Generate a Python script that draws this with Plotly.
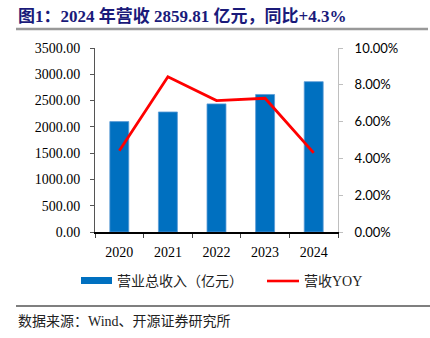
import plotly.graph_objects as go

# ---- data ----
years = ["2020", "2021", "2022", "2023", "2024"]
revenue = [2100, 2283, 2437, 2616, 2859.81]      # 营业总收入（亿元）
yoy = [4.42, 8.44, 7.14, 7.27, 4.30]             # 营收YOY (%)
left_ticks = [0, 500, 1000, 1500, 2000, 2500, 3000, 3500]
right_ticks = [0, 2, 4, 6, 8, 10]
bar_name = "营业总收入（亿元）"
line_name = "营收YOY"
title_text = "图1：2024 年营收 2859.81 亿元，同比+4.3%"
source_text = "数据来源：Wind、开源证券研究所"

W, H = 430, 338
L, R, T, B = 95, 338, 48, 232  # plot area pixels


def px(x):
    return (x - L) / (R - L)


def py(y):
    return (B - y) / (B - T)


SERIF = "Times New Roman, Liberation Serif, Noto Sans CJK SC"
BLUE = "#0070C0"
RED = "#FF0000"

fig = go.Figure()
fig.add_trace(go.Bar(
    x=years, y=revenue, name=bar_name, marker=dict(color=BLUE, line=dict(color="#5b9bd5", width=0.8)),
    showlegend=False, yaxis="y"))
fig.add_trace(go.Scatter(
    x=years, y=yoy, name=line_name, mode="lines", line=dict(color=RED, width=2.8),
    showlegend=False, yaxis="y2"))

fig.update_layout(
    width=W, height=H,
    margin=dict(l=L, r=W - R, t=T, b=H - B),
    paper_bgcolor="white", plot_bgcolor="white",
    bargap=0.61,
    xaxis=dict(showline=True, linecolor="black", linewidth=1.5, ticks="outside",
               tickson="boundaries", ticklen=4, tickcolor="#444", ticklabelstandoff=6,
               tickfont=dict(family=SERIF, size=14, color="black"), showgrid=False),
    yaxis=dict(range=[0, 3500], tickvals=left_ticks,
               ticktext=[f"{v:.2f}" for v in left_ticks],
               showline=True, linecolor="#555", linewidth=1, ticks="outside", ticklen=4,
               tickcolor="#555", showgrid=False, zeroline=False, ticklabelstandoff=7,
               tickfont=dict(family=SERIF, size=14, color="black")),
    yaxis2=dict(range=[0, 10], tickvals=right_ticks,
                ticktext=[f"{v:.2f}%" for v in right_ticks],
                overlaying="y", side="right", showline=True, linecolor="#bfbfbf",
                linewidth=1, ticks="outside", ticklen=4, tickcolor="#bfbfbf",
                showgrid=False, zeroline=False, ticklabelstandoff=9,
                tickfont=dict(family="Lato, Open Sans, sans-serif", size=13, color="black")),
)

shapes = [
    # title underline
    dict(type="line", xref="paper", yref="paper", x0=px(16), x1=px(428), y0=py(29), y1=py(29),
         line=dict(color="#999999", width=2.5)),
    # bottom separator
    dict(type="line", xref="paper", yref="paper", x0=px(16), x1=px(430), y0=py(306), y1=py(306),
         line=dict(color="black", width=1.2)),
    # legend: bar swatch
    dict(type="rect", xref="paper", yref="paper", x0=px(81), x1=px(112), y0=py(284), y1=py(277),
         fillcolor=BLUE, line=dict(width=0)),
    # legend: line swatch
    dict(type="line", xref="paper", yref="paper", x0=px(267), x1=px(299), y0=py(281), y1=py(281),
         line=dict(color=RED, width=2.6)),
]
fig.update_layout(shapes=shapes)

ann = [
    dict(text="<b>" + title_text + "</b>", x=px(16), y=py(16), xanchor="left", yanchor="middle",
         font=dict(family=SERIF, size=17, color="#1a1a7a")),
    dict(text=bar_name, x=px(115), y=py(281), xanchor="left", yanchor="middle",
         font=dict(family=SERIF, size=14, color="#222")),
    dict(text=line_name, x=px(302), y=py(281), xanchor="left", yanchor="middle",
         font=dict(family=SERIF, size=14, color="#222")),
    dict(text=source_text, x=px(16), y=py(321), xanchor="left", yanchor="middle",
         font=dict(family=SERIF, size=14, color="#222")),
]
for a in ann:
    fig.add_annotation(xref="paper", yref="paper", showarrow=False, **a)

fig.write_html("out.html")
